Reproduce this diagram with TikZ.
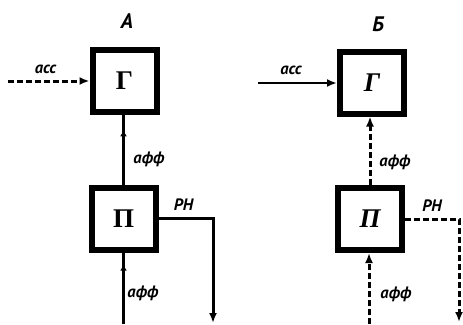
\documentclass[tikz,border=0pt]{standalone}
\usepackage{fontspec}
\setmainfont{PT Sans}
\newfontfamily\boxfont{Liberation Serif}
\usetikzlibrary{arrows.meta,decorations.markings}
\tikzset{
  blk/.style={draw=black, line width=6pt, minimum width=64pt, minimum height=62pt, inner sep=0pt, font=\boxfont\fontsize{27}{27}\selectfont\bfseries},
  lbl/.style={font=\fontsize{16.5}{16.5}\selectfont\bfseries\itshape, inner sep=0pt},
  ttl/.style={font=\fontsize{21}{21}\selectfont\bfseries\itshape, inner sep=0pt},
  conn/.style={line width=3pt},
  dconn/.style={line width=3pt, dash pattern=on 6pt off 3pt},
  tip/.style={-{Latex[length=10pt,width=8pt]}},
  midtip/.style={postaction={decorate}, decoration={markings, mark=at position #1 with {\arrow{Latex[length=6pt,width=7pt]}}}}
}
\begin{document}
\begin{tikzpicture}[x=1pt,y=-1pt]
\useasboundingbox (0,0) rectangle (463,324);
% Panel A
\node[ttl] (tA) at (127,21) {A};
\node[blk] (GA) at (124.5,81) {Г};
\node[blk] (PA) at (123.5,218.5) {П};
\coordinate (inA) at (8,81);
\coordinate (botA) at (123.5,324);
\coordinate (outA) at (213,323);
\draw[dconn,tip] (inA) -- (GA.west);
\draw[conn,midtip=0.78] (PA.north) -- (PA.north |- GA.south);
\draw[conn,midtip=0.83] (botA) -- (PA.south);
\draw[conn,tip] (PA.east) -| (outA);
\node[lbl] (accA) at (45.5,69) {асс};
\node[lbl] (affA1) at (149,159) {афф};
\node[lbl] (rnA) at (183.5,205) {РН};
\node[lbl] (affA2) at (143,293) {афф};
% Panel B
\node[ttl] (tB) at (378,24) {Б};
\node[blk,font=\boxfont\fontsize{27}{27}\selectfont\bfseries\itshape] (GB) at (372,82.5) {Г};
\node[blk,font=\boxfont\fontsize{27}{27}\selectfont\bfseries\itshape] (PB) at (370,219) {П};
\coordinate (inB) at (258,83);
\coordinate (botB) at (369,324);
\coordinate (outB) at (459,322);
\draw[conn,tip,line width=2.4pt] (inB) -- (inB -| GB.west);
\draw[dconn,tip] (PB.north) -- (PB.north |- GB.south);
\draw[dconn,tip] (botB) -- (botB |- PB.south);
\draw[dconn,tip] (PB.east) -| (outB);
\node[lbl] (accB) at (291,70) {асс};
\node[lbl] (affB1) at (395,162) {афф};
\node[lbl] (rnB) at (432,206) {РН};
\node[lbl] (affB2) at (396,294) {афф};
\end{tikzpicture}
\end{document}
